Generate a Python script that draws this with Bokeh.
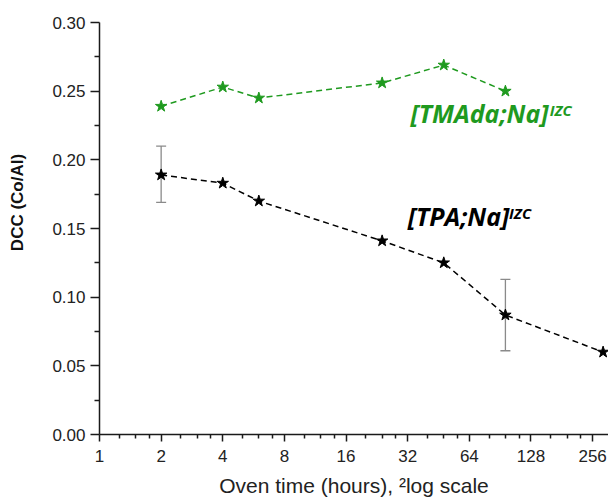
import math
from bokeh.plotting import figure
from bokeh.models import (ColumnDataSource, Range1d, FixedTicker,
                          NumeralTickFormatter, PrintfTickFormatter, Whisker, TeeHead, Label)
from bokeh.embed import file_html
from bokeh.resources import INLINE

# ---- data ----
tmada_hours = [2, 4, 6, 24, 48, 96]
tmada_dcc = [0.239, 0.253, 0.245, 0.256, 0.269, 0.250]
tpa_hours = [2, 4, 6, 24, 48, 96, 288]
tpa_dcc = [0.189, 0.183, 0.170, 0.141, 0.125, 0.087, 0.060]
err_hours = [2, 96]
err_lower = [0.169, 0.061]
err_upper = [0.210, 0.113]
x_ticks = [1, 2, 4, 8, 16, 32, 64, 128, 256]
x_minor_factors = [1.25, 1.5, 1.75]
y_ticks = [0.00, 0.05, 0.10, 0.15, 0.20, 0.25, 0.30]
y_minor = [0.025, 0.075, 0.125, 0.175, 0.225, 0.275]

GREEN = "#1f9a1f"
AX = "#1a1a1a"

p = figure(width=608, height=499, x_axis_type="log",
           x_range=Range1d(1, 306), y_range=Range1d(0, 0.30),
           output_backend="svg", toolbar_location=None,
           min_border_left=99, min_border_right=0, min_border_top=22, min_border_bottom=64)
p.outline_line_color = None
p.xgrid.visible = False
p.ygrid.visible = False

# axes
minor = [t * f for t in x_ticks for f in x_minor_factors]
p.xaxis.ticker = FixedTicker(ticks=x_ticks, minor_ticks=minor)
p.xaxis.formatter = PrintfTickFormatter(format="%d")
p.yaxis.ticker = FixedTicker(ticks=y_ticks, minor_ticks=y_minor)
p.yaxis.formatter = NumeralTickFormatter(format="0.00")

for ax in (p.xaxis, p.yaxis):
    ax.axis_line_color = AX
    ax.axis_line_width = 1.5
    ax.major_tick_line_color = AX
    ax.major_tick_line_width = 1.5
    ax.minor_tick_line_color = AX
    ax.minor_tick_line_width = 1.5
    ax.major_tick_in = 0
    ax.minor_tick_in = 0
    ax.major_label_text_font = "Liberation Sans"
    ax.major_label_text_font_size = "17px"
    ax.major_label_text_color = "#222222"

p.xaxis.major_tick_out = 7
p.xaxis.minor_tick_out = 4
p.xaxis.major_label_standoff = 8
p.xaxis.axis_label = "Oven time (hours), \u00b2log scale"
p.xaxis.axis_label_text_font = "Liberation Sans"
p.xaxis.axis_label_text_font_size = "21px"
p.xaxis.axis_label_text_font_style = "normal"
p.xaxis.axis_label_text_color = "#222222"
p.xaxis.axis_label_standoff = 9

p.yaxis.major_tick_out = 9
p.yaxis.minor_tick_out = 5
p.yaxis.major_label_standoff = 5
# leading no-break spaces shift the centred title upwards, as in the reference
p.yaxis.axis_label = "\u00a0" * 11 + "DCC (Co/Al)"
p.yaxis.axis_label_text_font = "Liberation Sans"
p.yaxis.axis_label_text_font_style = "bold"
p.yaxis.axis_label_text_font_size = "17px"
p.yaxis.axis_label_text_color = "#111111"
p.yaxis.axis_label_standoff = 22

# error bars
esrc = ColumnDataSource(dict(x=err_hours, lo=err_lower, hi=err_upper))
wh = Whisker(source=esrc, base="x", lower="lo", upper="hi", dimension="height",
             line_color="#8a8a8a", line_width=1.3, level="underlay",
             upper_head=TeeHead(size=10, line_color="#8a8a8a", line_width=1.3),
             lower_head=TeeHead(size=10, line_color="#8a8a8a", line_width=1.3))
p.add_layout(wh)

# series
gsrc = ColumnDataSource(dict(x=tmada_hours, y=tmada_dcc))
bsrc = ColumnDataSource(dict(x=tpa_hours, y=tpa_dcc))
p.line("x", "y", source=gsrc, line_color=GREEN, line_width=1.5, line_dash="6 4")
p.scatter("x", "y", source=gsrc, marker="star", size=12, fill_color=GREEN, line_color=GREEN)
p.line("x", "y", source=bsrc, line_color="black", line_width=1.5, line_dash="6 4")
p.scatter("x", "y", source=bsrc, marker="star", size=12, fill_color="black", line_color="black")

# series annotations
def annot(text, x, y, color, size):
    p.add_layout(Label(x=x, y=y, text=text, text_color=color, text_font="Open Sans",
                       text_font_style="bold italic", text_font_size=size,
                       text_align="left", text_baseline="middle"))

annot("[TMAda;Na]", 33.0, 0.2343, GREEN, "25px")
annot("IZC", 158.0, 0.2361, GREEN, "15px")
annot("[TPA;Na]", 32.0, 0.1594, "black", "25px")
annot("IZC", 100.0, 0.1613, "black", "15px")

open("out.html", "w").write(file_html(p, INLINE))
